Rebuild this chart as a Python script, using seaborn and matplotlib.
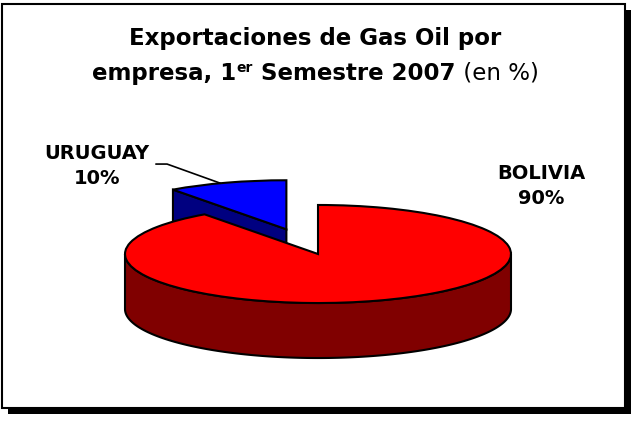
import numpy as np
import matplotlib
matplotlib.use("Agg")
import matplotlib.pyplot as plt
from matplotlib.patches import Rectangle
from matplotlib.transforms import Affine2D
import seaborn as sns

# data
countries = ["URUGUAY", "BOLIVIA"]
shares = [10, 90]
top_colors = ["#0000FF", "#FF0000"]
side_colors = ["#000080", "#800000"]
explode = [0.53, 0.0]

title_line1 = "Exportaciones de Gas Oil por"
title_line2 = [("empresa, 1", "bold", 16.5, 0), ("er", "bold", 10, 8),
               (" Semestre 2007", "bold", 16.5, 0), (" (en %)", "normal", 16.5, 0)]

sns.set_theme(style="white")
plt.rcParams["font.family"] = ["DejaVu Sans"]
plt.rcParams["text.color"] = "black"

W, H = 631, 421
fig = plt.figure(figsize=(W / 100, H / 100), dpi=100)
fig.patch.set_facecolor("white")
ax = fig.add_axes([0, 0, 1, 1])
ax.set_axis_off()
ax.patch.set_alpha(0)

def fx(px):
    return px / W

def fy(py):
    return 1 - py / H

# frame with drop shadow
ax.add_patch(Rectangle((fx(8), fy(414)), 623 / W, 404 / H, facecolor="black",
                       edgecolor="none", transform=fig.transFigure, zorder=-3, clip_on=False))
ax.add_patch(Rectangle((fx(2), fy(408)), 623 / W, 404 / H, facecolor="white",
                       edgecolor="black", linewidth=1.5, transform=fig.transFigure,
                       zorder=-2, clip_on=False))

tilt = 0.254   # vertical squash of the pie
depth = 0.285  # thickness of the pie
lw = 1.5

wedges, _ = ax.pie(shares, explode=explode, colors=top_colors, startangle=90,
                   counterclock=True,
                   wedgeprops=dict(edgecolor="black", linewidth=lw))
squash = Affine2D().scale(1, tilt) + ax.transData

for i, w in enumerate(wedges):
    w.set_transform(squash)
    w.set_zorder(2 * i + 2)
    cx, cy = w.center
    cy = cy * tilt
    t1, t2 = w.theta1, w.theta2
    # curved front side
    t = np.radians(np.linspace(t1, t2, 600))
    front = t[np.sin(t) <= 0]
    if len(front) > 1:
        xs = cx + np.cos(front)
        ys = cy + tilt * np.sin(front)
        px = np.concatenate([xs, xs[::-1]])
        py = np.concatenate([ys, ys[::-1] - depth])
        ax.fill(px, py, facecolor=side_colors[i], edgecolor="black",
                linewidth=lw, zorder=2 * i + 1)
    # radial faces
    for a, normal in ((t1, t1 - 90), (t2, t2 + 90)):
        if np.sin(np.radians(normal)) < -1e-6:
            rx = cx + np.cos(np.radians(a))
            ry = cy + tilt * np.sin(np.radians(a))
            ax.fill([cx, rx, rx, cx], [cy, ry, ry - depth, cy - depth],
                    facecolor=side_colors[i], edgecolor="black",
                    linewidth=lw, zorder=2 * i + 1)

ax.set_aspect("equal")
ax.set_xlim(-318 / 193, (W - 318) / 193)
ax.set_ylim((254 - H) / 193, 254 / 193)

# labels
uru = wedges[0]
mid = np.radians((uru.theta1 + uru.theta2) / 2 + 2)
rim = (uru.center[0] + np.cos(mid), tilt * (uru.center[1] + np.sin(mid)))
ax.text(-1.145, 0.456, f"{countries[0]}\n{shares[0]}%", ha="center", va="center",
        fontsize=14, fontweight="bold", linespacing=1.35, color="black", zorder=10)
ax.plot([-0.84, -0.782, rim[0]], [0.466, 0.466, rim[1]], color="black",
        linewidth=1.2, zorder=10)
ax.text(1.155, 0.352, f"{countries[1]}\n{shares[1]}%", ha="center", va="center",
        fontsize=14, fontweight="bold", linespacing=1.35, color="black", zorder=10)

# title
fig.text(0.5, fy(39), title_line1, ha="center", va="center", fontsize=16.5,
         fontweight="bold", color="black")
renderer = fig.canvas.get_renderer()
pieces = []
total = 0
for s, wt, size, rise in title_line2:
    t = fig.text(0, fy(80), s, ha="left", va="baseline", fontsize=size,
                 fontweight=wt, color="black")
    wpx = t.get_window_extent(renderer).width
    pieces.append((t, wpx, rise))
    total += wpx
x = W / 2 - total / 2
for t, wpx, rise in pieces:
    t.set_x(fx(x))
    t.set_y(fy(80 - rise))
    x += wpx

fig.savefig("out.png", dpi=100, facecolor="white")
